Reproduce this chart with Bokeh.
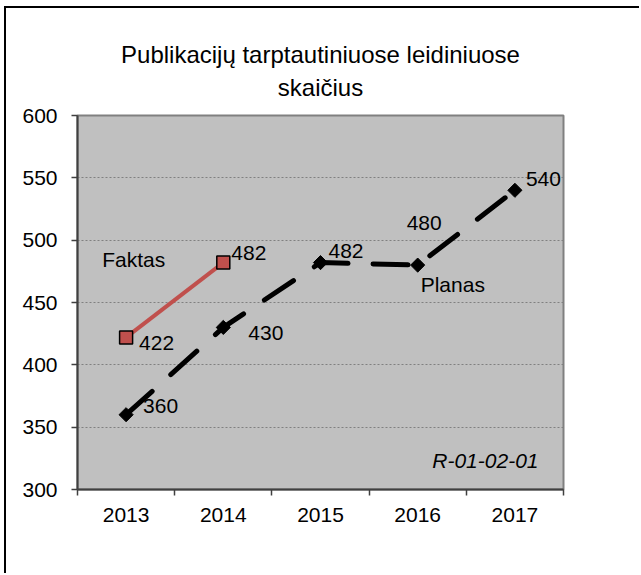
from bokeh.plotting import figure
from bokeh.models import FixedTicker, ColumnDataSource, LabelSet, Label, Range1d, Title
from bokeh.core.properties import value
from bokeh.embed import file_html
from bokeh.resources import INLINE
import math

# ---- data ----
years = ["2013", "2014", "2015", "2016", "2017"]
plan_values = [360, 430, 482, 480, 540]
fact_years = ["2013", "2014"]
fact_values = [422, 482]
y_ticks = [300, 350, 400, 450, 500, 550, 600]
title_line1 = "Publikacijų tarptautiniuose leidiniuose"
title_line2 = "skaičius"
plan_name = "Planas"
fact_name = "Faktas"
code_text = "R-01-02-01"

# ---- style / placement (not data) ----
plan_label_dx = [17, 25, 8, -11, 11]
plan_label_dy = [9, -6, 12, 42, 11]
fact_label_dx = [13, 8]
fact_label_dy = [-6, 10]

FONT = "Liberation Sans"
W, H = 635, 567

def xpos(y):
    return years.index(y) + 0.5

p = figure(width=W, height=H, output_backend="svg", toolbar_location=None,
           x_range=Range1d(0, len(years)), y_range=Range1d(y_ticks[0], y_ticks[-1]),
           min_border_left=71, min_border_right=78, min_border_top=107, min_border_bottom=86)

p.styles = {"border-left": "2px solid black", "border-top": "2px solid black",
            "margin-left": "4px", "margin-top": "6px"}

p.background_fill_color = "#c0c0c0"
p.border_fill_color = "white"
p.outline_line_color = "#808080"
p.outline_line_width = 2

# titles (two centred lines); the added Title sits closer to the frame
p.title.text = title_line1
p.title.align = "center"
p.title.text_font = FONT
p.title.text_font_size = "24px"
p.title.text_font_style = "normal"
p.title.text_color = "black"
p.title.standoff = -22
p.add_layout(Title(text=title_line2, align="center", text_font=FONT,
                   text_font_size="24px", text_font_style="normal",
                   text_color="black", standoff=30), "above")

# axes
xt = FixedTicker(ticks=[i + 0.5 for i in range(len(years))],
                 minor_ticks=list(range(len(years) + 1)))
p.xaxis.ticker = xt
p.xaxis.major_label_overrides = {i + 0.5: y for i, y in enumerate(years)}
p.xaxis.major_tick_in = 0
p.xaxis.major_tick_out = 0
p.xaxis.minor_tick_in = 0
p.xaxis.minor_tick_out = 6
p.xaxis.minor_tick_line_color = "#404040"
p.xaxis.minor_tick_line_width = 1.5
p.xaxis.major_label_standoff = 12

p.yaxis.ticker = FixedTicker(ticks=y_ticks, minor_ticks=[])
p.yaxis.major_tick_in = 0
p.yaxis.major_tick_out = 6
p.yaxis.major_tick_line_color = "#404040"
p.yaxis.major_tick_line_width = 1.5
p.yaxis.major_label_standoff = 14

for ax in (p.xaxis, p.yaxis):
    ax.axis_line_color = "#404040"
    ax.axis_line_width = 2
    ax.major_label_text_font = FONT
    ax.major_label_text_font_size = "21px"
    ax.major_label_text_color = "black"

p.xgrid.visible = False
p.ygrid.ticker = FixedTicker(ticks=y_ticks[1:-1])
p.ygrid.grid_line_color = "#808080"
p.ygrid.grid_line_dash = "2 2"
p.ygrid.grid_line_width = 1

# data sources
plan_src = ColumnDataSource(dict(x=[xpos(y) for y in years], y=plan_values,
                                 t=[str(v) for v in plan_values],
                                 dx=plan_label_dx, dy=plan_label_dy))
fact_src = ColumnDataSource(dict(x=[xpos(y) for y in fact_years], y=fact_values,
                                 t=[str(v) for v in fact_values],
                                 dx=fact_label_dx, dy=fact_label_dy))

# plan series
p.line("x", "y", source=plan_src, line_color="black", line_width=5,
       line_dash="35 25", line_cap="round")
p.scatter("x", "y", source=plan_src, marker="square", size=10, angle=math.pi / 4,
          fill_color="black", line_color="black", line_width=1)

# fact series
p.line("x", "y", source=fact_src, line_color="#c0504d", line_width=4)
p.scatter("x", "y", source=fact_src, marker="square", size=13,
          fill_color="#c0504d", line_color="black", line_width=1.5)

# data labels
for src in (plan_src, fact_src):
    p.add_layout(LabelSet(x="x", y="y", text="t", source=src,
                          x_offset="dx", y_offset="dy",
                          text_font=value(FONT), text_font_size="21px",
                          text_align="left", text_baseline="middle",
                          text_color="black"))

# series names
p.add_layout(Label(x=xpos(fact_years[-1]), y=fact_values[-1], text=fact_name,
                   x_offset=-58, y_offset=3, text_align="right", text_baseline="middle",
                   text_font=FONT, text_font_size="21px", text_color="black"))
p.add_layout(Label(x=xpos(years[3]), y=plan_values[3], text=plan_name,
                   x_offset=3, y_offset=-19, text_align="left", text_baseline="middle",
                   text_font=FONT, text_font_size="21px", text_color="black"))
p.add_layout(Label(x=len(years), y=y_ticks[0], text=code_text,
                   x_offset=-25, y_offset=29, text_align="right", text_baseline="middle",
                   text_font=FONT, text_font_size="21px", text_font_style="italic",
                   text_color="black"))

open("out.html", "w").write(file_html(p, INLINE))
